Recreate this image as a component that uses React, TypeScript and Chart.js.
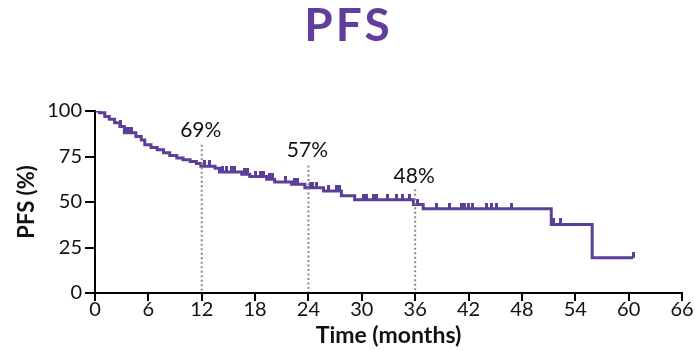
import React, { useEffect, useRef } from "react";
import { Chart, registerables } from "chart.js";

Chart.register(...registerables);

// KM step points: time of drop (months) and survival (%) after the drop
const dropTimes = [0, 0.5, 1.1, 1.6, 2.2, 2.8, 3.3, 4.6, 5.2, 5.6, 6.3, 7.0, 7.7, 8.4, 9.2, 9.9, 10.7, 11.4, 11.9, 13.5, 14.0, 16.5, 17.4, 19.3, 20.2, 22.1, 23.6, 25.7, 27.7, 29.2, 35.8, 36.9, 51.3, 55.9, 60.5];
const survival = [100, 99, 97, 95.5, 93.5, 91.5, 88, 86, 84, 81.5, 80, 78.7, 77, 75.6, 74.2, 73.2, 72.3, 71.2, 69.6, 68.5, 66.5, 65.2, 64, 62.5, 61, 59.8, 57.8, 56, 53.5, 51.2, 48.6, 46.3, 37.7, 19.3, 19.3];

// censored observation times (months)
const censorTimes = [2.9, 3.5, 3.8, 4.1, 12.3, 12.9, 14.3, 14.8, 15.4, 15.7, 16.8, 17.1, 18.0, 18.6, 19.0, 19.6, 20.0, 21.4, 22.4, 22.8, 24.2, 24.5, 24.9, 26.3, 27.2, 27.5, 30.2, 30.5, 31.3, 31.6, 32.9, 33.9, 34.6, 35.4, 36.3, 38.4, 39.9, 41.2, 41.6, 42.0, 42.5, 44.0, 44.6, 45.1, 46.8, 51.6, 52.3, 60.5];

// milestone annotations
const milestoneMonths = [12, 24, 36];
const milestoneLabels = ["69%", "57%", "48%"];
const milestoneLineTop = [81.5, 70, 57];
const milestoneLabelY = [89.5, 78.5, 64];

const xTicks = [0, 6, 12, 18, 24, 30, 36, 42, 48, 54, 60, 66];
const yTicks = [0, 25, 50, 75, 100];

const titleText = "PFS";
const xTitle = "Time (months)";
const yTitle = "PFS (%)";

const PURPLE = "#5b3f99";
const TITLE_PURPLE = "#633d9c";
const FONT = "Lato, 'Open Sans', sans-serif";

function survivalAt(t: number): number {
  let v = survival[0];
  for (let i = 0; i < dropTimes.length; i++) {
    if (dropTimes[i] <= t) v = survival[i];
  }
  return v;
}

export default function App() {
  const ref = useRef<HTMLCanvasElement | null>(null);

  useEffect(() => {
    if (!ref.current) return;

    const tick = document.createElement("canvas");
    tick.width = 3;
    tick.height = 12;
    const tctx = tick.getContext("2d")!;
    tctx.fillStyle = PURPLE;
    tctx.fillRect(0, 0, 3, 6);

    const annotations = {
      id: "annotations",
      afterDatasetsDraw(chart: any) {
        const { ctx, scales } = chart;
        const xs = scales.x;
        const ys = scales.y;
        ctx.save();
        milestoneMonths.forEach((m, i) => {
          const px = xs.getPixelForValue(m);
          ctx.strokeStyle = "#8a8a8a";
          ctx.lineWidth = 2;
          ctx.setLineDash([2, 2.5]);
          ctx.beginPath();
          ctx.moveTo(px, ys.getPixelForValue(milestoneLineTop[i]));
          ctx.lineTo(px, ys.getPixelForValue(0) - 1);
          ctx.stroke();
          ctx.setLineDash([]);
          ctx.fillStyle = "#111";
          ctx.font = `21px ${FONT}`;
          ctx.textAlign = "center";
          ctx.textBaseline = "middle";
          ctx.fillText(milestoneLabels[i], px - 1, ys.getPixelForValue(milestoneLabelY[i]));
        });
        ctx.restore();
      },
      afterDraw(chart: any) {
        const { ctx } = chart;
        ctx.save();
        ctx.fillStyle = TITLE_PURPLE;
        ctx.font = `bold 46px ${FONT}`;
        (ctx as any).letterSpacing = "3px";
        ctx.textAlign = "center";
        ctx.textBaseline = "middle";
        ctx.fillText(titleText, chart.width / 2 + 1, 26);
        ctx.restore();
      },
    };

    const chart = new Chart(ref.current, {
      type: "line",
      data: {
        datasets: [
          {
            label: "PFS",
            data: dropTimes.map((t, i) => ({ x: t, y: survival[i] })),
            borderColor: PURPLE,
            borderWidth: 3,
            stepped: true,
            pointRadius: 0,
            fill: false,
          } as any,
          {
            type: "scatter",
            label: "Censored",
            data: censorTimes.map((t) => ({ x: t, y: survivalAt(t) })),
            pointStyle: tick as any,
            pointRadius: 3,
            showLine: false,
          } as any,
        ],
      },
      options: {
        animation: false,
        responsive: false,
        maintainAspectRatio: false,
        layout: { padding: { top: 111, right: 13, left: 0, bottom: 0 } },
        plugins: {
          legend: { display: false },
          title: { display: false },
          tooltip: { enabled: false },
        },
        scales: {
          x: {
            type: "linear",
            min: 0,
            max: 66,
            afterFit: (s: any) => {
              s.height = 58;
            },
            afterBuildTicks: (s: any) => {
              s.ticks = xTicks.map((v) => ({ value: v }));
            },
            border: { display: true, color: "#000", width: 2 },
            grid: { drawOnChartArea: false, drawTicks: true, tickLength: 8, color: "#000", lineWidth: 2 },
            ticks: { color: "#111", font: { family: FONT, size: 20 }, padding: -3, maxRotation: 0, autoSkip: false },
            title: { display: true, text: xTitle, color: "#111", font: { family: FONT, size: 23, weight: "bold" }, padding: 2 },
          },
          y: {
            type: "linear",
            min: 0,
            max: 100,
            afterFit: (s: any) => {
              s.width = 95;
            },
            afterBuildTicks: (s: any) => {
              s.ticks = yTicks.map((v) => ({ value: v }));
            },
            border: { display: true, color: "#000", width: 2 },
            grid: { drawOnChartArea: false, drawTicks: true, tickLength: 10, color: "#000", lineWidth: 2 },
            ticks: { color: "#111", font: { family: FONT, size: 20 }, padding: 3 },
            title: { display: true, text: yTitle, color: "#111", font: { family: FONT, size: 22, weight: "bold" }, padding: 14 },
          },
        },
      },
      plugins: [annotations],
    });

    return () => chart.destroy();
  }, []);

  return (
    <div style={{ position: "fixed", left: 0, top: 0, width: 695, height: 351, background: "#fff" }}>
      <canvas ref={ref} width={695} height={351} />
    </div>
  );
}
